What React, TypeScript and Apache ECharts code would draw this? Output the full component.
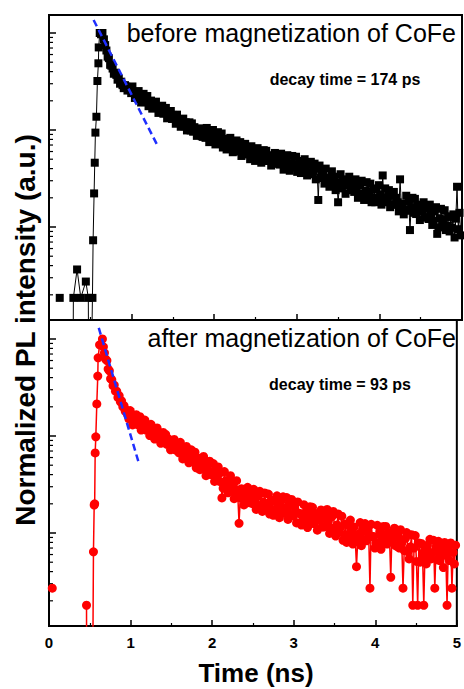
import React, { useEffect, useRef } from "react";
import * as echarts from "echarts";

// ---------- data ----------
const beforeRiseTimes = [0.13, 0.2, 0.285, 0.295, 0.34, 0.385, 0.446, 0.476, 0.486, 0.526, 0.534, 0.546, 0.554, 0.562, 0.574, 0.586, 0.598, 0.602, 0.614, 0.63, 0.647, 0.665];
const beforeRiseValues: (number | string)[] = [0.00186, "-", 0.00001, 0.00186, 0.00365, 0.00186, 0.00274, 0.00186, 0.00001, 0.00186, 0.0073, 0.0222, 0.046, 0.094, 0.137, 0.32, 0.487, 0.71, 1.0, 0.97, 1.0, 0.86];

const afterRiseTimes = [0.04, 0.3, 0.46, 0.465, 0.525, 0.545, 0.554, 0.56, 0.566, 0.574, 0.586, 0.598, 0.602, 0.62, 0.655, 0.667];
const afterRiseValues: (number | string)[] = [0.0027, "-", 0.0018, 0.00001, 0.00001, 0.0064, 0.0194, 0.02, 0.067, 0.098, 0.214, 0.415, 0.64, 0.87, 1.0, 0.83];

const decayTimes = [
  0.68, 0.695, 0.71, 0.725, 0.74, 0.755, 0.77, 0.785, 0.8, 0.815, 0.83, 0.845, 0.86, 0.875, 0.89, 0.905, 0.92, 0.935, 0.95, 0.965,
  0.98, 0.995, 1.01, 1.025, 1.04, 1.055, 1.07, 1.085, 1.1, 1.115, 1.13, 1.145, 1.16, 1.175, 1.19, 1.205, 1.22, 1.235, 1.25, 1.265,
  1.28, 1.295, 1.31, 1.325, 1.34, 1.355, 1.37, 1.385, 1.4, 1.415, 1.43, 1.445, 1.46, 1.475, 1.49, 1.505, 1.52, 1.535, 1.55, 1.565,
  1.58, 1.595, 1.61, 1.625, 1.64, 1.655, 1.67, 1.685, 1.7, 1.715, 1.73, 1.745, 1.76, 1.775, 1.79, 1.805, 1.82, 1.835, 1.85, 1.865,
  1.88, 1.895, 1.91, 1.925, 1.94, 1.955, 1.97, 1.985, 2.0, 2.015, 2.03, 2.045, 2.06, 2.075, 2.09, 2.105, 2.12, 2.135, 2.15, 2.165,
  2.18, 2.195, 2.21, 2.225, 2.24, 2.255, 2.27, 2.285, 2.3, 2.315, 2.33, 2.345, 2.36, 2.375, 2.39, 2.405, 2.42, 2.435, 2.45, 2.465,
  2.48, 2.495, 2.51, 2.525, 2.54, 2.555, 2.57, 2.585, 2.6, 2.615, 2.63, 2.645, 2.66, 2.675, 2.69, 2.705, 2.72, 2.735, 2.75, 2.765,
  2.78, 2.795, 2.81, 2.825, 2.84, 2.855, 2.87, 2.885, 2.9, 2.915, 2.93, 2.945, 2.96, 2.975, 2.99, 3.005, 3.02, 3.035, 3.05, 3.065,
  3.08, 3.095, 3.11, 3.125, 3.14, 3.155, 3.17, 3.185, 3.2, 3.215, 3.23, 3.245, 3.26, 3.275, 3.29, 3.305, 3.32, 3.335, 3.35, 3.365,
  3.38, 3.395, 3.41, 3.425, 3.44, 3.455, 3.47, 3.485, 3.5, 3.515, 3.53, 3.545, 3.56, 3.575, 3.59, 3.605, 3.62, 3.635, 3.65, 3.665,
  3.68, 3.695, 3.71, 3.725, 3.74, 3.755, 3.77, 3.785, 3.8, 3.815, 3.83, 3.845, 3.86, 3.875, 3.89, 3.905, 3.92, 3.935, 3.95, 3.965,
  3.98, 3.995, 4.01, 4.025, 4.04, 4.055, 4.07, 4.085, 4.1, 4.115, 4.13, 4.145, 4.16, 4.175, 4.19, 4.205, 4.22, 4.235, 4.25, 4.265,
  4.28, 4.295, 4.31, 4.325, 4.34, 4.355, 4.37, 4.385, 4.4, 4.415, 4.43, 4.445, 4.46, 4.475, 4.49, 4.505, 4.52, 4.535, 4.55, 4.565,
  4.58, 4.595, 4.61, 4.625, 4.64, 4.655, 4.67, 4.685, 4.7, 4.715, 4.73, 4.745, 4.76, 4.775, 4.79, 4.805, 4.82, 4.835, 4.85, 4.865,
  4.88, 4.895, 4.91, 4.925, 4.94, 4.955, 4.97, 4.985,
];

const beforeDecay = [
  0.75, 0.66, 0.57, 0.55, 0.47, 0.46, 0.43, 0.38, 0.39, 0.37, 0.33, 0.34, 0.3, 0.315, 0.29, 0.27, 0.29, 0.28, 0.255, 0.27,
  0.273, 0.24, 0.281, 0.245, 0.214, 0.222, 0.244, 0.252, 0.208, 0.192, 0.213, 0.236, 0.194, 0.203, 0.224, 0.176, 0.183, 0.201, 0.166, 0.194,
  0.169, 0.196, 0.172, 0.15, 0.175, 0.153, 0.178, 0.147, 0.154, 0.169, 0.132, 0.154, 0.135, 0.157, 0.13, 0.143, 0.133, 0.116, 0.144, 0.126,
  0.124, 0.108, 0.112, 0.131, 0.109, 0.12, 0.099, 0.109, 0.12, 0.099, 0.117, 0.096, 0.107, 0.099, 0.087, 0.102, 0.094, 0.104, 0.086, 0.085,
  0.099, 0.083, 0.105, 0.088, 0.075, 0.08, 0.093, 0.1, 0.078, 0.071, 0.082, 0.095, 0.074, 0.079, 0.092, 0.066, 0.07, 0.081, 0.063, 0.079,
  0.066, 0.083, 0.07, 0.059, 0.074, 0.062, 0.078, 0.06, 0.064, 0.075, 0.054, 0.068, 0.057, 0.072, 0.056, 0.066, 0.06, 0.05, 0.068, 0.0575,
  0.057, 0.048, 0.052, 0.065, 0.051, 0.059, 0.046, 0.0535, 0.062, 0.048, 0.061, 0.048, 0.055, 0.051, 0.043, 0.054, 0.05, 0.058, 0.045, 0.045,
  0.053, 0.044, 0.057, 0.047, 0.039, 0.042, 0.05, 0.055, 0.041, 0.038, 0.045, 0.054, 0.041, 0.044, 0.053, 0.037, 0.04, 0.048, 0.036, 0.047,
  0.038, 0.05, 0.041, 0.034, 0.044, 0.036, 0.047, 0.035, 0.038, 0.045, 0.031, 0.04, 0.019, 0.043, 0.032, 0.038, 0.034, 0.028, 0.04, 0.0325,
  0.032, 0.026, 0.028, 0.0375, 0.027, 0.033, 0.024, 0.029, 0.018, 0.026, 0.035, 0.025, 0.031, 0.028, 0.022, 0.03, 0.027, 0.033, 0.024, 0.024,
  0.029, 0.023, 0.031, 0.025, 0.02, 0.022, 0.027, 0.03, 0.022, 0.019, 0.0236, 0.029, 0.021, 0.023, 0.028, 0.018, 0.02, 0.025, 0.018, 0.0245,
  0.02, 0.027, 0.0216, 0.017, 0.034, 0.019, 0.025, 0.018, 0.02, 0.024, 0.016, 0.021, 0.017, 0.023, 0.017, 0.02, 0.018, 0.0145, 0.031, 0.0174,
  0.0172, 0.0135, 0.015, 0.021, 0.0147, 0.0183, 0.0093, 0.016, 0.02, 0.014, 0.0195, 0.0136, 0.017, 0.015, 0.0118, 0.0164, 0.0145, 0.018, 0.0126, 0.0125,
  0.0155, 0.0121, 0.017, 0.0133, 0.0105, 0.0116, 0.0145, 0.016, 0.0085, 0.0099, 0.0123, 0.0154, 0.0107, 0.0119, 0.0149, 0.0093, 0.0103, 0.0129, 0.009, 0.0127,
  0.0098, 0.0135, 0.0078, 0.0122, 0.026, 0.0095, 0.014, 0.0082,
];

const afterDecay = [
  0.72, 0.62, 0.6, 0.49, 0.47, 0.39, 0.38, 0.33, 0.335, 0.29, 0.29, 0.25, 0.26, 0.225, 0.23, 0.2, 0.205, 0.18, 0.185, 0.165,
  0.15, 0.183, 0.154, 0.13, 0.16, 0.135, 0.166, 0.131, 0.138, 0.158, 0.115, 0.141, 0.119, 0.146, 0.115, 0.13, 0.119, 0.101, 0.132, 0.112,
  0.11, 0.093, 0.098, 0.121, 0.095, 0.108, 0.084, 0.096, 0.109, 0.085, 0.104, 0.082, 0.094, 0.0855, 0.072, 0.089, 0.081, 0.092, 0.072, 0.071,
  0.082, 0.067, 0.086, 0.0705, 0.058, 0.062, 0.073, 0.078, 0.059, 0.053, 0.062, 0.072, 0.054, 0.058, 0.068, 0.047, 0.05, 0.059, 0.045, 0.057,
  0.046, 0.0615, 0.049, 0.039, 0.052, 0.041, 0.055, 0.04, 0.043, 0.052, 0.034, 0.0455, 0.036, 0.048, 0.034, 0.042, 0.023, 0.029, 0.043, 0.0345,
  0.034, 0.026, 0.0285, 0.039, 0.027, 0.0325, 0.0226, 0.028, 0.0346, 0.024, 0.0126, 0.023, 0.0286, 0.025, 0.0195, 0.027, 0.0238, 0.0296, 0.0207, 0.0205,
  0.0256, 0.0201, 0.0282, 0.0222, 0.0175, 0.0194, 0.0242, 0.0269, 0.0189, 0.0167, 0.0208, 0.0259, 0.0182, 0.0202, 0.0252, 0.0157, 0.0175, 0.0218, 0.0152, 0.0213,
  0.0167, 0.0242, 0.0187, 0.0144, 0.021, 0.0162, 0.0236, 0.016, 0.0181, 0.0232, 0.0138, 0.02, 0.0153, 0.0222, 0.015, 0.0191, 0.0166, 0.0127, 0.0209, 0.016,
  0.0158, 0.0121, 0.0136, 0.0196, 0.0132, 0.0168, 0.0114, 0.0146, 0.0187, 0.0127, 0.0184, 0.0125, 0.016, 0.014, 0.0107, 0.0155, 0.0135, 0.0173, 0.0116, 0.0115,
  0.0155, 0.0117, 0.0175, 0.0132, 0.0099, 0.0113, 0.0148, 0.0167, 0.0109, 0.0093, 0.0121, 0.0157, 0.0102, 0.0115, 0.0149, 0.0084, 0.0096, 0.0124, 0.008, 0.0121,
  0.0091, 0.0136, 0.0102, 0.0077, 0.0115, 0.0086, 0.0045, 0.0085, 0.0098, 0.0128, 0.0074, 0.011, 0.0084, 0.0125, 0.0083, 0.0108, 0.0094, 0.0027, 0.0123, 0.0092,
  0.0092, 0.007, 0.0079, 0.012, 0.0079, 0.0103, 0.0068, 0.009, 0.0117, 0.0078, 0.0117, 0.0077, 0.0101, 0.0087, 0.0035, 0.0099, 0.0086, 0.0112, 0.0074, 0.0073,
  0.0096, 0.007, 0.0108, 0.0079, 0.0027, 0.0066, 0.0088, 0.0101, 0.0064, 0.0054, 0.0072, 0.0096, 0.0018, 0.007, 0.0094, 0.0051, 0.0018, 0.0079, 0.005, 0.0078,
  0.0058, 0.0018, 0.0066, 0.0048, 0.0075, 0.0055, 0.0086, 0.0054, 0.0063, 0.0084, 0.0027, 0.0071, 0.0053, 0.0082, 0.0052, 0.007, 0.006, 0.0044, 0.008, 0.0059,
  0.0018, 0.0068, 0.0052, 0.0079, 0.0027, 0.0063, 0.0048, 0.0075,
];

const beforeFitTimes = [0.54, 1.31];
const beforeFitValues = [1.36, 0.07];
const afterFitTimes = [0.61, 1.1];
const afterFitValues = [1.3, 0.053];

const minorTickValues = [
  0.002, 0.003, 0.004, 0.005, 0.006, 0.007, 0.008, 0.009,
  0.02, 0.03, 0.04, 0.05, 0.06, 0.07, 0.08, 0.09,
  0.2, 0.3, 0.4, 0.5, 0.6, 0.7, 0.8, 0.9,
];

const xTickLabels = ["0", "1", "2", "3", "4", "5"];

const topTitle = "before magnetization of CoFe";
const topNote = "decay time = 174 ps";
const bottomTitle = "after magnetization of CoFe";
const bottomNote = "decay time = 93 ps";
const xTitle = "Time (ns)";
const yTitle = "Normalized PL intensity (a.u.)";

const FONT = "'Liberation Sans', Arial, Helvetica, sans-serif";

function pairs(ts: number[], vs: (number | string)[]) {
  return ts.map((t, i) => [t, vs[i]]);
}

export default function App() {
  const ref = useRef<HTMLDivElement>(null);
  useEffect(() => {
    if (!ref.current) return;
    const chart = echarts.init(ref.current, null, { renderer: "svg" });

    const beforeData = pairs(beforeRiseTimes, beforeRiseValues).concat(pairs(decayTimes, beforeDecay));
    const afterData = pairs(afterRiseTimes, afterRiseValues).concat(pairs(decayTimes, afterDecay));

    const xAxisBase = (gridIndex: number, showLabels: boolean) => ({
      type: "value",
      gridIndex,
      min: 0,
      max: 5,
      interval: 1,
      axisLine: { show: true, onZero: false, lineStyle: { color: "#000", width: 2 } },
      axisTick: { show: true, inside: true, length: 6, lineStyle: { color: "#000", width: 1.5 } },
      minorTick: { show: true, splitNumber: 2, length: 3, lineStyle: { color: "#000", width: 1.2 } },
      splitLine: { show: false },
      axisLabel: {
        show: showLabels,
        color: "#000",
        fontWeight: "bold",
        fontSize: 15,
        fontFamily: FONT,
        margin: 9,
        formatter: (v: number) => xTickLabels[Math.round(v)] ?? "",
      },
    });

    const yAxisBase = (gridIndex: number, max: number) => ({
      type: "log",
      logBase: 10,
      gridIndex,
      min: 0.0011,
      max,
      axisLine: { show: true, onZero: false, lineStyle: { color: "#000", width: 2 } },
      axisTick: { show: true, inside: true, length: 7, lineStyle: { color: "#000", width: 1.5 } },
      splitLine: { show: false },
      axisLabel: { show: false },
    });

    const tickRender = (params: any, api: any) => {
      const p = api.coord([0, api.value(1)]);
      return {
        type: "line",
        shape: { x1: p[0], y1: p[1], x2: p[0] + 4, y2: p[1] },
        style: { stroke: "#000", lineWidth: 1.2 },
      };
    };

    const option: any = {
      animation: false,
      backgroundColor: "#fff",
      grid: [
        { left: 49, top: 15, width: 413, height: 305, show: true, borderColor: "#000", borderWidth: 2, backgroundColor: "transparent" },
        { left: 49, top: 320, width: 413, height: 306, show: true, borderColor: "#000", borderWidth: 2, backgroundColor: "transparent" },
      ],
      xAxis: [xAxisBase(0, false), xAxisBase(1, true)],
      yAxis: [yAxisBase(0, 1.533), yAxisBase(1, 1.57)],
      series: [
        {
          type: "line",
          xAxisIndex: 0,
          yAxisIndex: 0,
          data: beforeData,
          symbol: "rect",
          symbolSize: 8,
          itemStyle: { color: "#000" },
          lineStyle: { color: "#000", width: 1 },
          clip: true,
          connectNulls: false,
        },
        {
          type: "line",
          xAxisIndex: 1,
          yAxisIndex: 1,
          data: afterData,
          symbol: "circle",
          symbolSize: 9,
          itemStyle: { color: "#ff0000" },
          lineStyle: { color: "#ff0000", width: 1.5 },
          clip: true,
          connectNulls: false,
        },
        {
          type: "line",
          xAxisIndex: 0,
          yAxisIndex: 0,
          data: pairs(beforeFitTimes, beforeFitValues),
          symbol: "none",
          lineStyle: { color: "#1f2fff", width: 2.5, type: [7, 4] },
          z: 5,
        },
        {
          type: "line",
          xAxisIndex: 1,
          yAxisIndex: 1,
          data: pairs(afterFitTimes, afterFitValues),
          symbol: "none",
          lineStyle: { color: "#1f2fff", width: 2.5, type: [7, 4] },
          z: 5,
        },
        {
          type: "custom",
          xAxisIndex: 0,
          yAxisIndex: 0,
          silent: true,
          clip: false,
          renderItem: tickRender,
          data: minorTickValues.map((v) => [0, v]),
        },
        {
          type: "custom",
          xAxisIndex: 1,
          yAxisIndex: 1,
          silent: true,
          clip: false,
          renderItem: tickRender,
          data: minorTickValues.map((v) => [0, v]),
        },
      ],
      graphic: [
        {
          type: "text",
          x: 456,
          y: 33,
          style: { text: topTitle, fill: "#000", font: `normal 25px ${FONT}`, align: "right", verticalAlign: "middle" },
        },
        {
          type: "text",
          x: 345,
          y: 79,
          style: { text: topNote, fill: "#000", font: `bold 16px ${FONT}`, align: "center", verticalAlign: "middle" },
        },
        {
          type: "text",
          x: 456,
          y: 338,
          style: { text: bottomTitle, fill: "#000", font: `normal 25px ${FONT}`, align: "right", verticalAlign: "middle" },
        },
        {
          type: "text",
          x: 340,
          y: 384,
          style: { text: bottomNote, fill: "#000", font: `bold 16px ${FONT}`, align: "center", verticalAlign: "middle" },
        },
        {
          type: "text",
          x: 256,
          y: 673,
          style: { text: xTitle, fill: "#000", font: `bold 26px ${FONT}`, align: "center", verticalAlign: "middle" },
        },
        {
          type: "text",
          x: 25,
          y: 330,
          rotation: Math.PI / 2,
          style: { text: yTitle, fill: "#000", font: `bold 28px ${FONT}`, align: "center", verticalAlign: "middle" },
        },
      ],
    };

    chart.setOption(option);
    return () => chart.dispose();
  }, []);

  return <div ref={ref} style={{ position: "fixed", left: 0, top: 0, width: 464, height: 689, background: "#fff" }} />;
}
